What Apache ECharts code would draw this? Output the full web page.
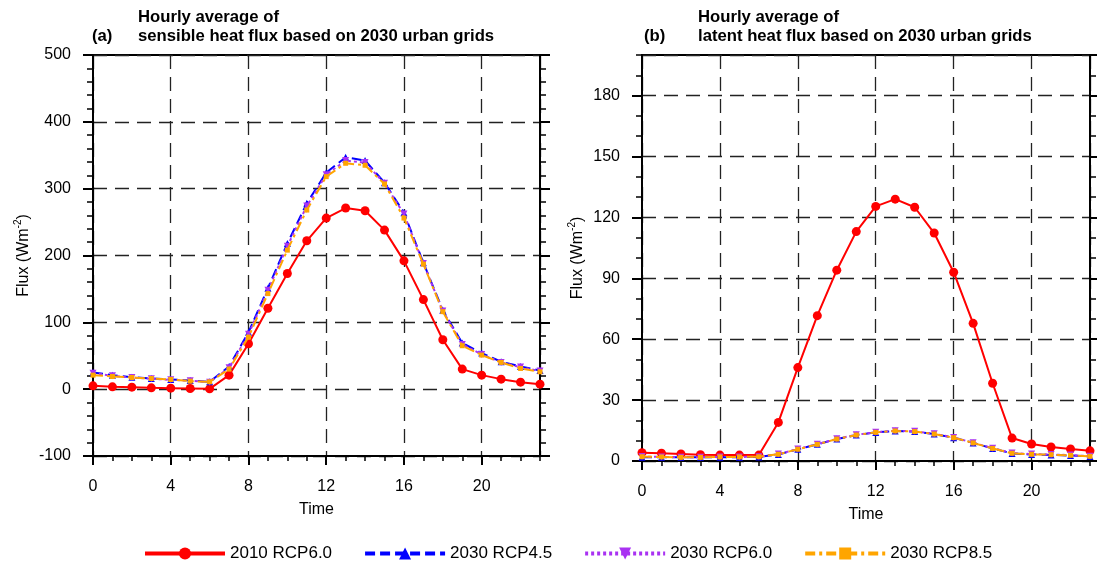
<!DOCTYPE html>
<html>
<head>
<meta charset="utf-8">
<script src="https://cdn.jsdelivr.net/npm/echarts@6/dist/echarts.min.js"></script>
<style>
  html, body { margin: 0; padding: 0; background: #fff; }
  #chart { width: 1097px; height: 563px; }
</style>
</head>
<body>
<div id="chart"></div>
<script>
const hours = [0, 1, 2, 3, 4, 5, 6, 7, 8, 9, 10, 11, 12, 13, 14, 15, 16, 17, 18, 19, 20, 21, 22, 23];
const seriesNames = ['2010 RCP6.0', '2030 RCP4.5', '2030 RCP6.0', '2030 RCP8.5'];

// (a) sensible heat flux
const sensible2010 = [5, 3.5, 3, 2, 1.5, 1, 0.5, 21, 68, 121, 173, 222, 256, 271, 267, 238, 192, 134, 74, 30, 21, 15, 10.5, 7.5];
const sensible45 = [25, 21, 18, 16, 14.5, 13, 11, 34, 85, 151, 218, 278, 324, 347, 342, 309, 264, 189, 118, 69, 54, 41, 34, 28];
const sensible60 = [24, 20, 17.5, 15.5, 14, 12.5, 10.5, 32, 82, 148, 214, 274, 321, 342, 339, 308, 262, 188, 117, 67, 52, 40, 33, 27];
const sensible85 = [21, 19, 17.5, 16, 14.5, 12, 11, 30, 78, 143, 208, 268, 318, 338, 335, 307, 256, 187, 116, 65, 51, 40, 31, 26];

// (b) latent heat flux
const latent2010 = [4.1, 3.8, 3.5, 3.1, 2.9, 2.9, 2.9, 19, 46, 71.6, 94, 113, 125.4, 129, 125, 112.3, 93, 67.8, 38.3, 11.3, 8.4, 6.9, 5.9, 5];
const latent45 = [1.9, 1.9, 1.8, 1.8, 1.9, 1.9, 2.0, 3.2, 5.8, 8.2, 10.8, 12.8, 14.1, 14.8, 14.5, 13.3, 11.5, 8.9, 6.2, 3.7, 3.2, 3.0, 2.7, 2.2];
const latent60 = [2.2, 2.0, 1.9, 1.9, 2.0, 2.0, 2.1, 3.4, 5.9, 8.3, 10.9, 12.9, 14.2, 14.9, 14.6, 13.4, 11.6, 9.0, 6.3, 3.9, 3.4, 3.2, 2.9, 2.4];
const latent85 = [2.1, 2.0, 1.8, 1.8, 2.0, 2.0, 2.1, 3.3, 5.8, 8.2, 10.8, 12.8, 14.1, 14.8, 14.5, 13.3, 11.5, 8.9, 6.2, 3.8, 3.3, 3.1, 2.8, 2.3];

const FONT = "'Liberation Sans', Arial, Helvetica, sans-serif";
const black = '#000';

const gridA = { left: 93, top: 55, width: 447, height: 401 };
const gridB = { left: 642, top: 55, width: 448, height: 406 };

const styles = [
  { color: '#ff0000', type: 'solid', symbol: 'circle', size: 9, rotate: 0 },
  { color: '#0000ff', type: [10, 5], symbol: 'triangle', size: 7, rotate: 0 },
  { color: '#a932f2', type: [3, 3], symbol: 'triangle', size: 7, rotate: 180 },
  { color: '#ffa500', type: [10, 4, 3, 4], symbol: 'rect', size: 5, rotate: 0 }
];

function pairs(arr) {
  return hours.map((h, i) => [h, arr[i]]);
}

const gridLine = { show: true, lineStyle: { type: [14, 8], color: '#222', width: 1.3 } };
const solidLine = { show: true, onZero: false, lineStyle: { color: black, width: 2 } };

function mainX(gridIndex) {
  return {
    gridIndex, type: 'value', min: 0, max: 23, interval: 4, position: 'bottom',
    name: 'Time', nameLocation: 'middle', nameGap: 46,
    nameTextStyle: { fontSize: 16, color: black, fontFamily: FONT },
    axisLine: solidLine,
    axisTick: { show: true, length: 9, lineStyle: { color: black, width: 2 } },
    axisLabel: { margin: 23, fontSize: 16, color: black, fontFamily: FONT, showMaxLabel: false },
    splitLine: gridLine
  };
}

function minorX(gridIndex) {
  return {
    gridIndex, type: 'value', min: 0, max: 23, interval: 1, position: 'bottom',
    axisLine: { show: false, onZero: false },
    axisTick: { show: true, length: 5, lineStyle: { color: black, width: 1.5 } },
    axisLabel: { show: false },
    splitLine: { show: false }
  };
}

function mainY(gridIndex, min, max, step, gap) {
  return {
    gridIndex, type: 'value', min, max, interval: step, position: 'left',
    name: '{a|Flux (Wm}{b|-2}{a|)}', nameLocation: 'middle', nameGap: gap, nameRotate: 90,
    nameTextStyle: {
      color: black, fontFamily: FONT,
      rich: {
        a: { fontSize: 16, lineHeight: 22, color: black, fontFamily: FONT },
        b: { fontSize: 10, lineHeight: 12, verticalAlign: 'top', color: black, fontFamily: FONT }
      }
    },
    axisLine: solidLine,
    axisTick: { show: true, length: 10, lineStyle: { color: black, width: 2 } },
    axisLabel: { margin: 22, fontSize: 16, color: black, fontFamily: FONT, showMaxLabel: min === -100 },
    splitLine: gridLine
  };
}

function sideY(gridIndex, min, max, step, pos, len) {
  return {
    gridIndex, type: 'value', min, max, interval: step, position: pos,
    axisLine: { show: false, onZero: false },
    axisTick: { show: true, length: len, lineStyle: { color: black, width: 1.5 } },
    axisLabel: { show: false },
    splitLine: { show: false }
  };
}

function rightMainY(gridIndex, min, max, step) {
  return {
    gridIndex, type: 'value', min, max, interval: step, position: 'right',
    axisLine: solidLine,
    axisTick: { show: true, length: 10, lineStyle: { color: black, width: 2 } },
    axisLabel: { show: false },
    splitLine: { show: false }
  };
}

function makeSeries(values, xIdx, yIdx) {
  return values.map((arr, i) => {
    const s = styles[i];
    return {
      name: seriesNames[i], type: 'line', xAxisIndex: xIdx, yAxisIndex: yIdx,
      data: pairs(arr),
      symbol: s.symbol, symbolSize: s.size, symbolRotate: s.rotate,
      lineStyle: { color: s.color, width: 2, type: s.type },
      itemStyle: { color: s.color },
      z: 3 + i
    };
  });
}

const border = { show: true, borderColor: black, borderWidth: 2, backgroundColor: 'transparent' };
const titleStyle = { fontSize: 16.7, fontWeight: 'bold', lineHeight: 19, color: black, fontFamily: FONT };

const option = {
  animation: false,
  textStyle: { fontFamily: FONT },
  title: [
    { text: 'Hourly average of\nsensible heat flux based on 2030 urban grids', left: 138, top: 8, padding: 0, textStyle: titleStyle },
    { text: '(a)', left: 92, top: 27, padding: 0, textStyle: titleStyle },
    { text: 'Hourly average of\nlatent heat flux based on 2030 urban grids', left: 698, top: 8, padding: 0, textStyle: titleStyle },
    { text: '(b)', left: 644, top: 27, padding: 0, textStyle: titleStyle }
  ],
  legend: {
    data: seriesNames, left: 143, top: 545, itemWidth: 80, itemHeight: 15, itemGap: 31,
    padding: 0,
    textStyle: { fontSize: 17, color: black, fontFamily: FONT },
    lineStyle: { width: 4 }
  },
  grid: [
    Object.assign({}, gridA, border),
    Object.assign({}, gridB, border),
    Object.assign({}, gridA),
    Object.assign({}, gridB)
  ],
  xAxis: [mainX(0), mainX(1), minorX(2), minorX(3)],
  yAxis: [
    mainY(0, -100, 500, 100, 58),
    rightMainY(0, -100, 500, 100),
    mainY(1, 0, 200, 30, 53),
    rightMainY(1, 0, 200, 30),
    sideY(2, -100, 500, 20, 'left', 6),
    sideY(2, -100, 500, 20, 'right', 6),
    sideY(3, 0, 200, 10, 'left', 6),
    sideY(3, 0, 200, 10, 'right', 6)
  ],
  series: [
    ...makeSeries([sensible2010, sensible45, sensible60, sensible85], 0, 0),
    ...makeSeries([latent2010, latent45, latent60, latent85], 1, 2)
  ]
};

const chart = echarts.init(document.getElementById('chart'));
chart.setOption(option);
</script>
</body>
</html>
